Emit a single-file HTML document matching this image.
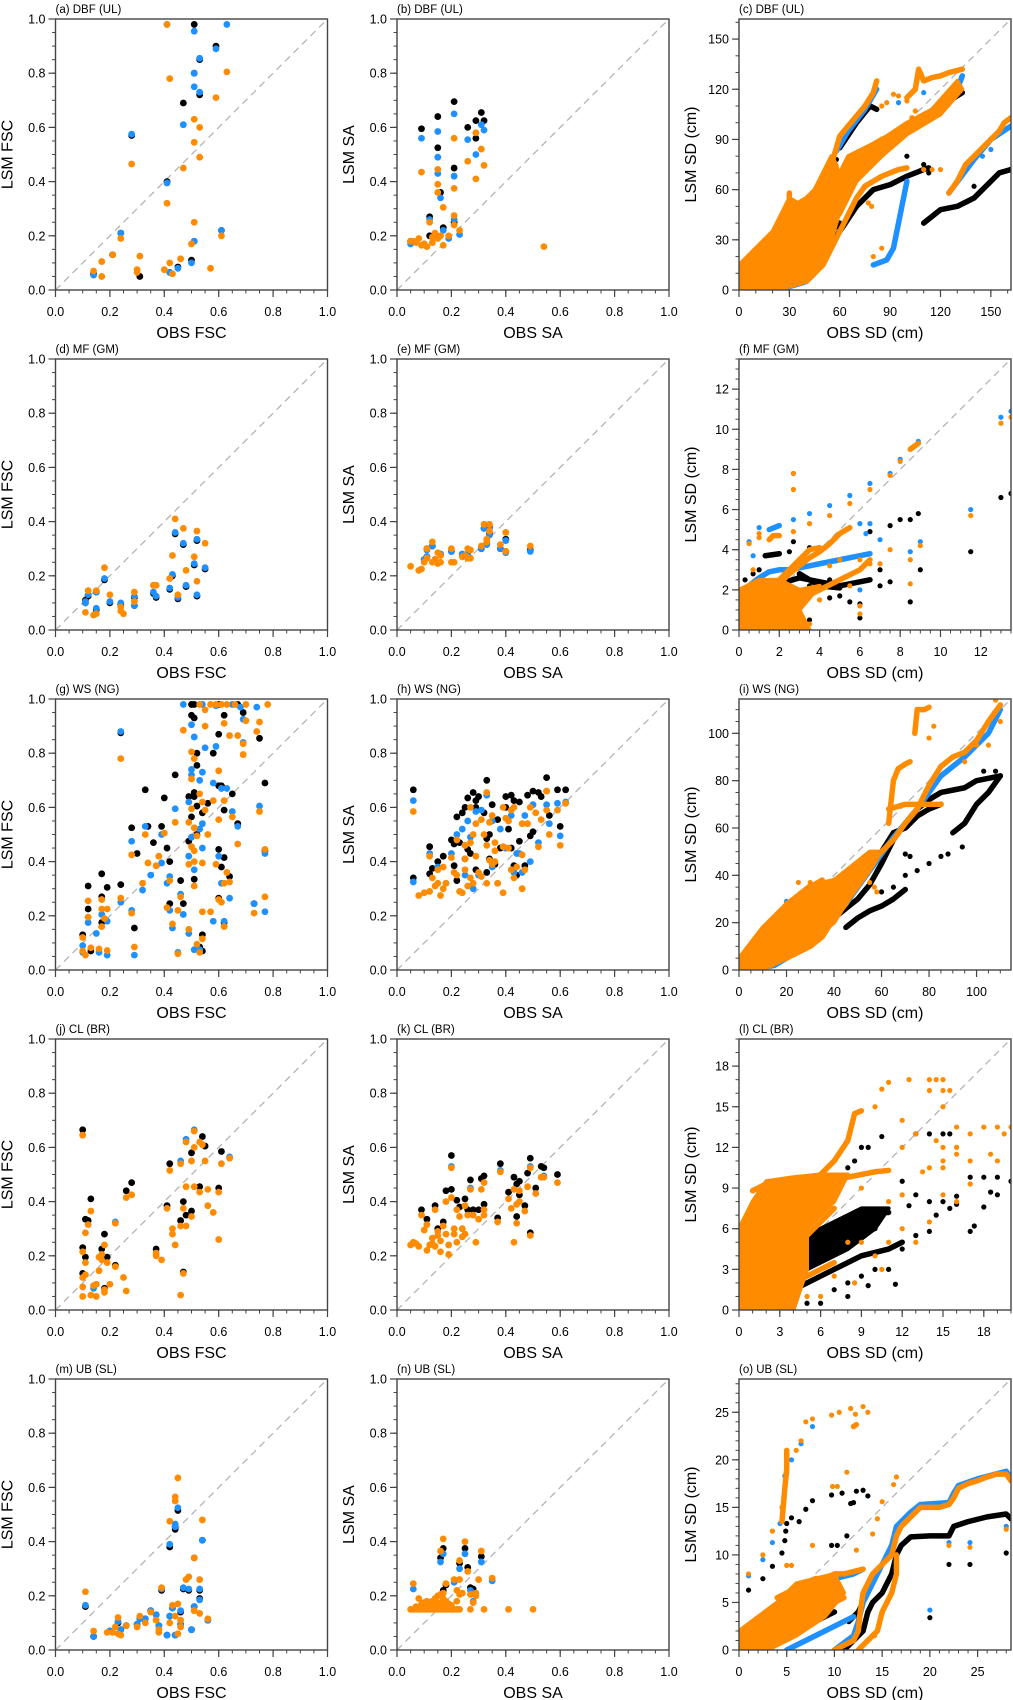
<!DOCTYPE html>
<html><head><meta charset="utf-8">
<style>
html,body{margin:0;padding:0;background:#fff;}
svg{display:block;font-family:"Liberation Sans",sans-serif;}
</style></head>
<body>
<svg id="fig" width="1013" height="1700" viewBox="0 0 1013 1700" xmlns="http://www.w3.org/2000/svg"></svg>
<script>
// ---------- data ----------
const aBlack=[[0.51,0.98],[0.59,0.90],[0.53,0.85],[0.51,0.80],[0.53,0.72],[0.47,0.69],[0.28,0.57],[0.41,0.40],[0.24,0.21],[0.21,0.13],[0.31,0.05],[0.51,0.18],[0.50,0.11],[0.45,0.085],[0.42,0.065],[0.61,0.22],[0.14,0.06]];
const aBlue=[[0.41,0.98],[0.63,0.98],[0.51,0.955],[0.59,0.89],[0.53,0.855],[0.51,0.80],[0.51,0.75],[0.53,0.73],[0.47,0.61],[0.28,0.575],[0.41,0.395],[0.24,0.21],[0.21,0.13],[0.14,0.055],[0.42,0.065],[0.45,0.08],[0.50,0.10],[0.51,0.18],[0.61,0.22]];
const aOrange=[[0.41,0.98],[0.42,0.78],[0.63,0.805],[0.59,0.71],[0.51,0.63],[0.53,0.60],[0.51,0.545],[0.53,0.49],[0.28,0.465],[0.47,0.45],[0.41,0.32],[0.51,0.25],[0.24,0.19],[0.61,0.20],[0.50,0.17],[0.21,0.13],[0.31,0.125],[0.17,0.105],[0.46,0.115],[0.30,0.075],[0.30,0.065],[0.42,0.10],[0.40,0.075],[0.43,0.06],[0.57,0.08],[0.14,0.07],[0.17,0.05]];
const bBlack=[[0.09,0.595],[0.15,0.64],[0.21,0.695],[0.15,0.525],[0.26,0.60],[0.29,0.625],[0.31,0.655],[0.32,0.625],[0.29,0.56],[0.21,0.45],[0.16,0.36],[0.12,0.27],[0.21,0.25],[0.17,0.23],[0.12,0.2],[0.05,0.18]];
const bBlue=[[0.09,0.56],[0.15,0.585],[0.21,0.65],[0.15,0.49],[0.15,0.43],[0.26,0.555],[0.31,0.61],[0.32,0.59],[0.29,0.50],[0.21,0.42],[0.16,0.34],[0.12,0.26],[0.21,0.26],[0.17,0.22],[0.23,0.205],[0.05,0.17],[0.1,0.17],[0.19,0.19]];
const bOrange=[[0.09,0.435],[0.15,0.445],[0.15,0.39],[0.21,0.56],[0.21,0.375],[0.26,0.475],[0.29,0.58],[0.31,0.52],[0.32,0.46],[0.29,0.41],[0.15,0.36],[0.17,0.305],[0.21,0.275],[0.12,0.25],[0.16,0.2],[0.14,0.21],[0.13,0.195],[0.08,0.19],[0.05,0.18],[0.1,0.17],[0.11,0.16],[0.17,0.165],[0.19,0.2],[0.23,0.22],[0.21,0.24],[0.54,0.16],[0.06,0.18],[0.07,0.175],[0.13,0.175],[0.15,0.19],[0.09,0.165]];
const dBlack=[[0.11,0.11],[0.12,0.125],[0.15,0.14],[0.15,0.075],[0.18,0.185],[0.2,0.10],[0.24,0.095],[0.29,0.12],[0.29,0.09],[0.36,0.135],[0.37,0.12],[0.42,0.15],[0.43,0.20],[0.44,0.355],[0.45,0.115],[0.47,0.315],[0.48,0.16],[0.51,0.24],[0.52,0.33],[0.52,0.125],[0.55,0.225],[0.11,0.10]];
const dBlue=[[0.11,0.105],[0.12,0.13],[0.15,0.14],[0.15,0.08],[0.18,0.19],[0.2,0.105],[0.24,0.1],[0.29,0.125],[0.29,0.09],[0.36,0.14],[0.37,0.125],[0.42,0.155],[0.43,0.205],[0.44,0.36],[0.45,0.12],[0.47,0.32],[0.48,0.165],[0.51,0.245],[0.52,0.335],[0.52,0.13],[0.55,0.23],[0.11,0.1]];
const dOrange=[[0.11,0.065],[0.12,0.145],[0.15,0.145],[0.14,0.055],[0.15,0.06],[0.18,0.23],[0.2,0.13],[0.24,0.085],[0.24,0.07],[0.25,0.06],[0.29,0.14],[0.29,0.105],[0.36,0.165],[0.37,0.165],[0.42,0.19],[0.43,0.275],[0.44,0.41],[0.45,0.13],[0.47,0.375],[0.48,0.22],[0.51,0.27],[0.52,0.365],[0.52,0.18],[0.55,0.32]];
const eBlack=[[0.11,0.30],[0.13,0.31],[0.11,0.27],[0.16,0.28],[0.2,0.29],[0.24,0.28],[0.26,0.28],[0.31,0.30],[0.32,0.375],[0.33,0.32],[0.34,0.38],[0.34,0.355],[0.38,0.30],[0.4,0.335],[0.4,0.29],[0.49,0.295],[0.14,0.26],[0.1,0.26]];
const eBlue=[[0.11,0.295],[0.13,0.31],[0.11,0.27],[0.16,0.28],[0.2,0.29],[0.24,0.28],[0.26,0.28],[0.31,0.30],[0.32,0.375],[0.33,0.315],[0.34,0.375],[0.34,0.35],[0.38,0.30],[0.4,0.33],[0.4,0.285],[0.49,0.29],[0.14,0.26],[0.1,0.26]];
const eOrange=[[0.05,0.235],[0.08,0.22],[0.09,0.225],[0.10,0.25],[0.11,0.3],[0.11,0.265],[0.13,0.325],[0.13,0.25],[0.14,0.26],[0.15,0.285],[0.15,0.245],[0.16,0.25],[0.16,0.275],[0.2,0.30],[0.2,0.25],[0.21,0.25],[0.24,0.27],[0.25,0.275],[0.26,0.30],[0.27,0.295],[0.27,0.265],[0.26,0.265],[0.31,0.31],[0.32,0.39],[0.33,0.335],[0.33,0.325],[0.34,0.39],[0.34,0.365],[0.38,0.315],[0.4,0.36],[0.4,0.29],[0.49,0.31]];
const gBlack=[[0.5,0.98],[0.51,0.98],[0.6,0.98],[0.67,0.98],[0.5,0.94],[0.51,0.93],[0.62,0.94],[0.69,0.95],[0.24,0.875],[0.75,0.855],[0.6,0.87],[0.52,0.8],[0.58,0.8],[0.52,0.755],[0.44,0.72],[0.33,0.665],[0.77,0.69],[0.6,0.68],[0.61,0.68],[0.65,0.65],[0.51,0.655],[0.4,0.635],[0.49,0.64],[0.51,0.64],[0.52,0.605],[0.56,0.615],[0.5,0.565],[0.54,0.58],[0.62,0.59],[0.67,0.54],[0.28,0.525],[0.34,0.53],[0.39,0.53],[0.36,0.47],[0.41,0.45],[0.49,0.475],[0.52,0.5],[0.6,0.445],[0.3,0.43],[0.42,0.4],[0.62,0.415],[0.61,0.38],[0.64,0.345],[0.17,0.355],[0.12,0.31],[0.24,0.315],[0.19,0.305],[0.46,0.33],[0.51,0.335],[0.12,0.225],[0.17,0.27],[0.42,0.245],[0.47,0.245],[0.6,0.265],[0.17,0.175],[0.29,0.155],[0.54,0.13],[0.1,0.13],[0.53,0.085],[0.54,0.07],[0.13,0.07],[0.62,0.175],[0.77,0.44],[0.73,0.245]];
const gBlue=[[0.47,0.98],[0.54,0.98],[0.59,0.975],[0.65,0.98],[0.68,0.97],[0.74,0.97],[0.5,0.905],[0.24,0.88],[0.51,0.86],[0.55,0.82],[0.59,0.825],[0.69,0.84],[0.69,0.925],[0.5,0.74],[0.5,0.72],[0.54,0.73],[0.53,0.7],[0.58,0.69],[0.61,0.67],[0.63,0.67],[0.49,0.62],[0.44,0.595],[0.54,0.54],[0.65,0.585],[0.67,0.53],[0.75,0.605],[0.28,0.475],[0.33,0.53],[0.39,0.5],[0.5,0.49],[0.53,0.52],[0.54,0.45],[0.6,0.42],[0.49,0.42],[0.51,0.37],[0.39,0.395],[0.35,0.35],[0.41,0.32],[0.42,0.345],[0.32,0.295],[0.24,0.25],[0.28,0.22],[0.46,0.28],[0.42,0.22],[0.47,0.205],[0.58,0.18],[0.62,0.18],[0.64,0.265],[0.12,0.175],[0.15,0.135],[0.19,0.18],[0.43,0.155],[0.49,0.135],[0.51,0.075],[0.45,0.065],[0.1,0.09],[0.1,0.065],[0.16,0.065],[0.19,0.055],[0.29,0.055],[0.53,0.075],[0.73,0.245],[0.77,0.215],[0.77,0.43],[0.61,0.32],[0.17,0.205]];
const gOrange=[[0.53,0.98],[0.57,0.98],[0.59,0.98],[0.61,0.98],[0.63,0.98],[0.66,0.98],[0.7,0.98],[0.78,0.98],[0.55,0.96],[0.62,0.91],[0.55,0.9],[0.47,0.885],[0.64,0.865],[0.67,0.865],[0.74,0.88],[0.7,0.92],[0.75,0.915],[0.69,0.835],[0.69,0.795],[0.5,0.805],[0.51,0.78],[0.24,0.78],[0.6,0.735],[0.5,0.705],[0.53,0.65],[0.54,0.62],[0.58,0.625],[0.62,0.625],[0.5,0.595],[0.55,0.59],[0.6,0.555],[0.65,0.565],[0.75,0.585],[0.49,0.545],[0.44,0.545],[0.51,0.525],[0.67,0.465],[0.33,0.5],[0.4,0.505],[0.52,0.495],[0.56,0.5],[0.28,0.425],[0.38,0.42],[0.5,0.455],[0.51,0.44],[0.34,0.395],[0.37,0.385],[0.49,0.39],[0.51,0.4],[0.54,0.395],[0.59,0.39],[0.63,0.36],[0.62,0.32],[0.64,0.325],[0.42,0.33],[0.32,0.32],[0.51,0.31],[0.24,0.265],[0.46,0.27],[0.6,0.26],[0.61,0.25],[0.12,0.255],[0.17,0.26],[0.77,0.27],[0.17,0.225],[0.19,0.225],[0.41,0.23],[0.45,0.22],[0.54,0.215],[0.57,0.215],[0.73,0.21],[0.28,0.21],[0.18,0.19],[0.12,0.195],[0.17,0.16],[0.43,0.17],[0.62,0.16],[0.49,0.15],[0.1,0.12],[0.54,0.115],[0.52,0.095],[0.29,0.085],[0.16,0.078],[0.13,0.082],[0.19,0.072],[0.1,0.07],[0.11,0.055],[0.45,0.06],[0.53,0.065],[0.77,0.445]];
const hBlack=[[0.06,0.665],[0.33,0.7],[0.55,0.71],[0.28,0.655],[0.26,0.635],[0.25,0.6],[0.29,0.625],[0.22,0.565],[0.24,0.58],[0.35,0.61],[0.32,0.58],[0.4,0.64],[0.42,0.645],[0.43,0.625],[0.45,0.62],[0.48,0.645],[0.5,0.66],[0.52,0.655],[0.53,0.64],[0.59,0.665],[0.62,0.665],[0.56,0.57],[0.6,0.53],[0.5,0.51],[0.49,0.495],[0.2,0.48],[0.21,0.465],[0.23,0.47],[0.34,0.5],[0.37,0.555],[0.4,0.6],[0.33,0.485],[0.41,0.52],[0.45,0.475],[0.42,0.45],[0.12,0.455],[0.17,0.42],[0.15,0.4],[0.13,0.375],[0.12,0.355],[0.26,0.445],[0.27,0.43],[0.34,0.41],[0.36,0.39],[0.38,0.45],[0.43,0.385],[0.44,0.35],[0.47,0.385],[0.33,0.36],[0.29,0.37],[0.06,0.34],[0.21,0.385],[0.25,0.41],[0.29,0.6],[0.3,0.64],[0.22,0.33]];
const hBlue=[[0.06,0.625],[0.33,0.645],[0.55,0.66],[0.29,0.585],[0.26,0.55],[0.24,0.52],[0.31,0.59],[0.35,0.55],[0.38,0.52],[0.42,0.57],[0.47,0.57],[0.5,0.61],[0.55,0.61],[0.59,0.615],[0.62,0.62],[0.52,0.47],[0.56,0.54],[0.6,0.495],[0.49,0.4],[0.45,0.43],[0.4,0.45],[0.27,0.49],[0.22,0.5],[0.2,0.43],[0.15,0.38],[0.12,0.43],[0.25,0.46],[0.3,0.35],[0.35,0.38],[0.37,0.32],[0.4,0.45],[0.43,0.36],[0.46,0.36],[0.25,0.35],[0.06,0.325],[0.28,0.3],[0.18,0.32],[0.44,0.43]];
const hOrange=[[0.06,0.585],[0.33,0.655],[0.55,0.66],[0.62,0.615],[0.59,0.59],[0.55,0.59],[0.51,0.58],[0.49,0.6],[0.43,0.6],[0.39,0.6],[0.35,0.57],[0.31,0.555],[0.27,0.6],[0.29,0.54],[0.34,0.545],[0.41,0.55],[0.46,0.54],[0.48,0.54],[0.53,0.555],[0.52,0.455],[0.56,0.5],[0.6,0.46],[0.46,0.425],[0.47,0.37],[0.43,0.34],[0.41,0.45],[0.39,0.455],[0.36,0.44],[0.33,0.46],[0.28,0.5],[0.27,0.47],[0.25,0.46],[0.22,0.48],[0.2,0.415],[0.17,0.38],[0.15,0.37],[0.12,0.42],[0.13,0.34],[0.15,0.32],[0.17,0.3],[0.18,0.32],[0.12,0.29],[0.1,0.285],[0.08,0.275],[0.14,0.31],[0.16,0.275],[0.21,0.36],[0.22,0.35],[0.23,0.29],[0.24,0.285],[0.25,0.37],[0.26,0.31],[0.27,0.34],[0.28,0.32],[0.3,0.36],[0.31,0.345],[0.33,0.32],[0.34,0.405],[0.35,0.39],[0.36,0.4],[0.37,0.32],[0.39,0.285],[0.42,0.37],[0.44,0.38],[0.46,0.30],[0.25,0.41],[0.29,0.42],[0.32,0.5],[0.36,0.47],[0.4,0.56],[0.42,0.59]];
const jBlack=[[0.1,0.665],[0.54,0.64],[0.55,0.605],[0.5,0.58],[0.61,0.585],[0.42,0.54],[0.28,0.47],[0.26,0.44],[0.13,0.41],[0.11,0.335],[0.12,0.33],[0.18,0.28],[0.1,0.23],[0.17,0.225],[0.11,0.195],[0.19,0.195],[0.47,0.4],[0.53,0.455],[0.6,0.45],[0.41,0.385],[0.46,0.33],[0.48,0.35],[0.5,0.365],[0.37,0.225],[0.22,0.165],[0.1,0.135],[0.47,0.14],[0.18,0.08]];
const jBlue=[[0.14,0.08],[0.51,0.665],[0.48,0.63],[0.46,0.55],[0.22,0.325],[0.64,0.565]];
const jOrange=[[0.1,0.645],[0.51,0.66],[0.48,0.62],[0.53,0.62],[0.54,0.61],[0.51,0.6],[0.61,0.54],[0.64,0.56],[0.42,0.515],[0.46,0.54],[0.5,0.55],[0.55,0.55],[0.48,0.455],[0.51,0.455],[0.53,0.435],[0.56,0.445],[0.6,0.435],[0.26,0.415],[0.28,0.425],[0.41,0.375],[0.47,0.375],[0.56,0.385],[0.58,0.36],[0.5,0.345],[0.48,0.31],[0.43,0.3],[0.46,0.31],[0.43,0.28],[0.13,0.365],[0.12,0.315],[0.22,0.32],[0.11,0.285],[0.18,0.24],[0.1,0.215],[0.16,0.195],[0.17,0.205],[0.17,0.185],[0.19,0.175],[0.11,0.175],[0.22,0.16],[0.37,0.21],[0.37,0.2],[0.39,0.185],[0.44,0.24],[0.6,0.26],[0.16,0.145],[0.11,0.13],[0.1,0.12],[0.25,0.12],[0.47,0.135],[0.2,0.095],[0.14,0.09],[0.15,0.095],[0.1,0.085],[0.18,0.065],[0.18,0.075],[0.26,0.07],[0.1,0.05],[0.13,0.055],[0.15,0.05],[0.46,0.055]];
const kBlack=[[0.09,0.37],[0.11,0.335],[0.14,0.385],[0.17,0.325],[0.18,0.44],[0.2,0.445],[0.2,0.57],[0.22,0.405],[0.23,0.38],[0.25,0.41],[0.26,0.37],[0.27,0.48],[0.28,0.37],[0.3,0.37],[0.31,0.485],[0.32,0.495],[0.32,0.39],[0.38,0.54],[0.37,0.34],[0.41,0.435],[0.43,0.49],[0.44,0.465],[0.45,0.475],[0.45,0.425],[0.47,0.385],[0.48,0.505],[0.49,0.56],[0.51,0.45],[0.53,0.53],[0.54,0.525],[0.59,0.5],[0.44,0.345],[0.49,0.285],[0.15,0.3]];
const kBlue=[[0.2,0.53],[0.27,0.45],[0.38,0.515],[0.49,0.53],[0.54,0.495]];
const kOrange=[[0.05,0.24],[0.06,0.25],[0.07,0.245],[0.08,0.235],[0.09,0.35],[0.1,0.295],[0.11,0.315],[0.11,0.22],[0.12,0.24],[0.13,0.245],[0.13,0.265],[0.14,0.37],[0.14,0.235],[0.15,0.275],[0.15,0.29],[0.16,0.255],[0.16,0.215],[0.17,0.31],[0.18,0.28],[0.18,0.4],[0.19,0.24],[0.19,0.205],[0.2,0.415],[0.2,0.525],[0.21,0.3],[0.21,0.28],[0.22,0.25],[0.22,0.37],[0.23,0.345],[0.24,0.3],[0.24,0.27],[0.25,0.385],[0.25,0.28],[0.26,0.35],[0.27,0.445],[0.28,0.35],[0.29,0.25],[0.3,0.335],[0.31,0.445],[0.32,0.37],[0.32,0.35],[0.32,0.47],[0.37,0.325],[0.38,0.51],[0.41,0.41],[0.42,0.375],[0.43,0.25],[0.43,0.445],[0.44,0.32],[0.44,0.39],[0.45,0.44],[0.45,0.4],[0.47,0.365],[0.48,0.455],[0.49,0.525],[0.49,0.275],[0.51,0.43],[0.53,0.49],[0.54,0.49],[0.59,0.47]];
const mBlack=[[0.11,0.16],[0.14,0.05],[0.2,0.07],[0.23,0.1],[0.24,0.075],[0.26,0.09],[0.3,0.095],[0.31,0.115],[0.33,0.115],[0.35,0.145],[0.37,0.13],[0.38,0.09],[0.39,0.22],[0.41,0.055],[0.42,0.125],[0.42,0.38],[0.43,0.155],[0.44,0.445],[0.44,0.455],[0.44,0.055],[0.45,0.515],[0.46,0.14],[0.46,0.095],[0.47,0.225],[0.49,0.22],[0.5,0.075],[0.51,0.34],[0.51,0.16],[0.53,0.22],[0.53,0.19],[0.54,0.405],[0.56,0.11]];
const mBlue=[[0.11,0.165],[0.14,0.05],[0.2,0.07],[0.23,0.105],[0.24,0.075],[0.26,0.09],[0.3,0.095],[0.31,0.115],[0.33,0.115],[0.35,0.145],[0.37,0.13],[0.38,0.09],[0.39,0.225],[0.41,0.055],[0.42,0.125],[0.42,0.39],[0.43,0.155],[0.44,0.455],[0.44,0.465],[0.44,0.055],[0.45,0.525],[0.46,0.145],[0.46,0.095],[0.47,0.23],[0.49,0.225],[0.5,0.075],[0.51,0.34],[0.51,0.16],[0.53,0.225],[0.53,0.185],[0.54,0.405],[0.56,0.11]];
const mOrange=[[0.11,0.215],[0.14,0.07],[0.19,0.065],[0.21,0.065],[0.22,0.085],[0.23,0.12],[0.23,0.06],[0.24,0.055],[0.26,0.09],[0.3,0.085],[0.31,0.125],[0.33,0.1],[0.35,0.14],[0.37,0.11],[0.38,0.075],[0.38,0.065],[0.39,0.23],[0.42,0.475],[0.42,0.1],[0.43,0.165],[0.44,0.55],[0.44,0.565],[0.44,0.125],[0.45,0.635],[0.45,0.17],[0.45,0.06],[0.46,0.085],[0.46,0.11],[0.48,0.26],[0.49,0.27],[0.51,0.34],[0.51,0.145],[0.53,0.26],[0.53,0.135],[0.54,0.48],[0.56,0.115]];
const nBlack=[[0.16,0.34],[0.17,0.375],[0.23,0.32],[0.25,0.375],[0.26,0.305],[0.27,0.23],[0.31,0.345],[0.18,0.24],[0.17,0.22],[0.28,0.225]];
const nBlue=[[0.06,0.225],[0.16,0.325],[0.17,0.355],[0.23,0.3],[0.25,0.355],[0.31,0.325],[0.35,0.255],[0.21,0.25],[0.28,0.18],[0.27,0.22]];
const nOrange=[[0.05,0.15],[0.06,0.15],[0.07,0.15],[0.08,0.15],[0.09,0.15],[0.1,0.15],[0.11,0.15],[0.12,0.15],[0.13,0.15],[0.14,0.15],[0.15,0.15],[0.16,0.15],[0.17,0.15],[0.18,0.15],[0.19,0.15],[0.2,0.15],[0.21,0.15],[0.22,0.15],[0.23,0.15],[0.27,0.15],[0.32,0.15],[0.41,0.15],[0.5,0.15],[0.06,0.245],[0.07,0.16],[0.08,0.19],[0.09,0.17],[0.1,0.175],[0.11,0.165],[0.12,0.175],[0.13,0.18],[0.14,0.19],[0.15,0.2],[0.16,0.205],[0.17,0.21],[0.16,0.365],[0.17,0.41],[0.18,0.245],[0.17,0.19],[0.18,0.18],[0.16,0.17],[0.15,0.175],[0.14,0.165],[0.12,0.165],[0.21,0.26],[0.22,0.22],[0.23,0.26],[0.23,0.33],[0.22,0.18],[0.23,0.205],[0.24,0.21],[0.25,0.4],[0.26,0.29],[0.27,0.205],[0.28,0.175],[0.29,0.2],[0.29,0.21],[0.3,0.26],[0.31,0.365],[0.35,0.265],[0.13,0.16],[0.11,0.18],[0.09,0.16],[0.2,0.165],[0.19,0.17],[0.1,0.16],[0.15,0.16],[0.17,0.17]];

// SD panels: dense clouds (outline vertices in data units), tracks (dense runs) + isolated points
const cOrangeCloud=[[[0,0],[0,15],[10,25],[20,35],[25,45],[30,55],[35,52],[40,55],[45,60],[50,70],[55,80],[58,75],[60,65],[62,55],[58,40],[55,30],[50,20],[45,10],[40,5],[30,2],[20,0]],[[55,60],[65,80],[75,85],[85,90],[100,100],[115,108],[130,125],[133,120],[120,105],[100,93],[85,80],[70,65],[60,45]]];
const cOrangeTracks=[[[0,0],[5,8],[10,14],[15,20],[20,25],[25,32],[30,40],[35,45],[40,52],[45,58],[50,65],[55,75],[58,85],[60,92],[65,98],[70,104],[75,110],[80,118],[82,125]],[[0,5],[5,15],[10,20],[15,25],[20,30],[25,40],[30,50],[30,58]],[[10,0],[20,8],[30,18],[35,25],[40,35],[45,45],[50,50],[55,55]],[[20,0],[30,5],[40,15],[45,25],[50,35],[55,45],[60,55],[65,70],[70,75],[75,82],[80,87],[85,90],[90,92],[95,95],[100,98],[105,100],[110,102],[115,105],[120,110],[125,115],[130,122]],[[40,5],[45,10],[50,15],[55,25],[60,35],[65,45],[70,55],[75,62],[80,65],[85,68],[90,70],[95,72],[100,73]],[[100,115],[105,120],[107,132],[110,125],[115,127],[120,128],[125,130],[133,132]],[[125,58],[130,65],[135,75],[140,80],[145,85],[150,90],[155,95],[158,100],[162,103]]];
const cOrangePts=[[85,110],[88,112],[95,116],[92,117],[100,113],[110,72],[115,72],[120,72],[80,20],[85,25],[77,52],[79,50],[103,103],[105,107]];
const cBlueTracks=[[[0,0],[20,0],[30,2],[40,5],[45,10],[48,20],[52,30]],[[80,15],[88,18],[92,25],[95,40],[98,55],[100,65]],[[58,83],[65,95],[75,108],[82,120]],[[90,92],[110,100],[130,120],[133,128]],[[125,58],[140,78],[150,90],[162,98]]];
const cBluePts=[[95,112],[110,118],[145,80],[150,84]];
const cBlackTracks=[[[45,15],[55,28],[62,38],[70,50],[80,60],[90,63],[100,68],[110,72],[113,73]],[[60,85],[70,100],[78,110],[82,108]],[[100,95],[110,102],[120,110],[133,118]],[[110,40],[120,48],[130,50],[140,55],[150,65],[155,70],[162,72]],[[40,20],[50,30],[60,40]]];
const cBlackPts=[[90,90],[100,80],[110,75],[113,70],[58,78],[52,55],[140,62]];

const fOrangeCloud=[[[0,0],[0,2],[1,2.5],[2,2.5],[3,2],[4,2.2],[3,1],[3.5,0],[2,0]]];
const fOrangeTracks=[[[0,0.5],[0.5,1],[1,1.5],[1.5,2],[2,2.3],[2.5,2.8],[3,3.2],[3.5,3.6],[4,3.9],[4.5,4.3],[5,4.8],[5.5,5.1]],[[0,1.5],[1,2],[2,2.5],[3,3.5],[3.5,4],[4,4.1]],[[0,0.2],[1,0.5],[2,1.0],[3,1.5],[4,2.0],[5,2.5],[6,3.0],[6.5,3.5]],[[1.5,4.5],[1.7,4.7],[2,4.7]],[[8.5,9],[8.9,9.3]]];
const fOrangePts=[[0.5,4.3],[0.7,3],[1,4.6],[1,4.8],[2.7,7.8],[2.7,7],[2.7,4.9],[3.5,5.3],[4.5,5.7],[5.5,6.3],[6.5,7],[7.5,7.7],[8,8.4],[8.5,3.5],[8.5,2.3],[9,4.2],[13,10.3],[13.5,10.6],[11.5,5.7],[6,1.2],[6,0.8],[5.5,2.2],[4,1.5],[3,0.5],[3.5,0.3],[2.8,0.6],[3,1],[1.5,0.3],[0.5,0.8],[2,0.2],[4.5,3.2],[5,3.5],[6,3.5],[6.5,3.3],[7,3.3],[7.5,4],[1,1],[1.5,1.5],[2.5,1.8],[0.3,1.2],[0.8,0.3],[2,1.5],[1.2,2.2]];
const fBlueTracks=[[[0,1.8],[0.5,2.2],[1,2.6],[1.5,2.9],[2,3],[2.5,3],[3,3.1],[3.5,3.2],[4,3.3],[5,3.5],[6,3.7],[6.5,3.8]],[[1.5,5],[2,5.2]]];
const fBluePts=[[0.5,4.4],[0.7,3.7],[1,5.1],[2.7,7.8],[2.7,5.5],[3.5,5.8],[4.5,6.2],[5.5,6.7],[6.5,7.3],[7.5,7.8],[8,8.5],[8.9,9.4],[13,10.6],[13.5,10.9],[11.5,6],[9,4.4],[8.5,3.9],[7,4.5],[6.5,5.3],[6,5.3],[6,2],[6.3,4.8]];
const fBlackTracks=[[[0,1],[1,1.8],[2,2.3],[3,2.6],[4,2.4],[5,2.2],[6,2.4],[6.5,2.5]],[[1.3,3.7],[2,3.8]],[[3,2.8],[4,2.2],[5,2.1]]];
const fBlackPts=[[0.3,2.5],[0.7,2.8],[1,3],[2.7,4.4],[2.5,3.9],[3.5,4.1],[6.5,4.9],[7.5,5.2],[8,5.5],[8.5,5.5],[8.9,5.8],[13,6.6],[13.5,6.8],[11.5,3.9],[9,3],[8.5,1.4],[7.5,2.4],[7,2.2],[7,3],[6,0.6],[6,1.3],[5.5,1.4],[5,1.7],[4.5,1.6],[3.5,0.5],[3,0.8],[2.5,0.4],[1.2,0.3],[4.5,2.5],[3.5,2.2]];

const iOrangeCloud=[[[0,0],[0,5],[10,18],[20,28],[30,36],[40,38],[50,46],[55,50],[60,50],[55,42],[50,35],[45,28],[40,20],[30,12],[20,5],[10,0]]];
const iOrangeTracks=[[[0,0],[5,4],[10,8],[15,14],[20,20],[25,24],[30,28],[35,30],[38,33]],[[0,2],[5,7],[10,12],[15,18],[20,25],[25,28],[30,35],[35,38]],[[5,2],[15,6],[25,12],[30,15],[35,20],[40,25],[45,30],[50,38],[55,44],[60,50],[65,55],[70,62],[75,68],[80,78],[85,86],[90,90],[95,92],[100,97],[105,105],[110,112]],[[10,2],[20,5],[30,10],[35,14],[40,22],[45,28],[50,40],[52,45]],[[63,62],[65,80],[67,85],[70,87],[72,88]],[[74,100],[75,110],[78,110],[80,111]],[[63,68],[70,70],[80,70],[85,70]],[[20,28],[25,30],[30,28]]];
const iOrangePts=[[40,38],[45,40],[48,42],[55,37],[57,35],[58,33],[25,37],[30,37],[35,38],[80,98],[82,103],[100,95],[95,88],[108,114],[110,105],[105,95]];
const iBlueTracks=[[[5,0],[15,2],[25,8],[35,16],[45,28],[55,42],[65,56],[75,68],[85,82],[95,90],[105,100],[110,110]]];
const iBluePts=[[20,29],[42,30]];
const iBlackTracks=[[[10,3],[20,10],[30,15],[40,22],[45,26],[50,30],[55,36],[60,45],[65,55],[70,62],[75,68],[80,72],[85,75],[90,76],[95,77],[100,80],[110,82]],[[45,18],[50,22],[55,25],[60,27],[65,30],[70,34]],[[60,50],[65,58],[70,60],[75,65],[80,68],[85,70]],[[90,58],[95,62],[100,70],[105,75],[110,82]]];
const iBlackPts=[[60,33],[65,35],[70,40],[75,42],[80,45],[85,48],[88,49],[94,52],[70,49],[72,48],[103,84],[108,84],[12,4],[18,7],[30,13]];

const lOrangeCloud=[[[0,0],[0,6],[1,8],[2,9.5],[4,9.8],[6,10],[8,10],[7,8],[6,7],[5,6],[5,3],[4,0]]];
const lOrangeTracks=[[[0,0.5],[1,1.5],[2,2.5],[3,3.5],[4,4.5],[5,5.5],[6,6.5],[7,7.5]],[[0,2],[1,3],[2,4],[3,5],[4,6],[5,7]],[[0,4],[1,5],[2,6],[3,7],[4,7.5],[5,8],[6,8.8]],[[0,5.5],[1,7],[2,8],[3,9],[4,9.3],[5,9.5],[6,9.6],[7,9.7],[8,9.8],[9,10],[10,10.2],[11,10.3]],[[0,1],[1,0.5],[2,1],[3,1.5],[4,2],[5,2.5],[6,3],[7,3.5]],[[1,8.8],[2,9.3]],[[3,8.5],[5,9.5],[6,10],[7,11],[8,12.5],[8.5,14.5],[9,14.7]]];
const lOrangePts=[[10,15],[10.5,16.3],[11,16.8],[12.5,17],[14,17],[14.5,17],[15,17],[14,16.2],[15,16.2],[15.5,16.2],[15,15],[12,14],[12,12],[13,13],[14.5,12.5],[15,12],[16,12],[15,11],[16,11.5],[17,11],[16,13.5],[17,13],[18,13.5],[19,13.5],[20,13.5],[19.5,13],[18.5,11.5],[19,11],[13.5,10.2],[14,10.5],[15,10.5],[16,8],[15,8.5],[14,6.5],[13,5],[12,6],[11,5],[10,4],[9,5],[8,5],[8.5,2],[7,2.5],[6,1],[5,1],[4,0.5],[12,8.5],[11,8],[17,9.3],[10.5,3],[9,9]];
const lBlackCloud=[[[3,4],[6,6],[9,7.5],[11,7.5],[10,6],[8,4.5],[5,3]]];
const lBlackTracks=[[[0,2],[2,3],[4,4],[6,5],[8,6.5],[9,7],[10,7.2],[11,7.2]],[[0,3.5],[1,4.5],[2,5.5],[3,6.5],[4,7.5],[5,8]],[[3,1],[5,2],[7,3],[9,4],[11,4.5],[12,5]]];
const lBlackPts=[[1,7],[7,9.5],[8,10.5],[8.5,11],[9,12],[9.5,12],[10.5,12.8],[13,13],[14,13],[15,13],[15.5,13],[12,9.5],[13,8.5],[14,8],[15,8],[15.5,7.5],[14.5,7],[16,8.4],[17,9.8],[18,9.8],[19,9.8],[20,9.5],[19,8.5],[18.5,8.7],[18,7.6],[17,5.8],[17.3,6.2],[14,5.8],[13,5.5],[12,4.5],[11,3],[10,3],[9,2.5],[8,2],[7,1.5],[6,0.5],[5,0.5],[4,0.8],[11.5,1.9],[9.5,1.8],[8,1],[10,6],[16,7.8],[12.5,7.7]];

const oOrangeCloud=[[[0,0],[0,2],[2,3.5],[4,5],[6,7],[8,7.5],[10,8],[11,6],[9,3.5],[6,1.5],[3,0]]];
const oOrangeTracks=[[[0,0.5],[1,1.5],[2,2.5],[3,3.5],[4,4.5],[5,5.5],[6,6.5],[7,7]],[[0,0],[2,0.5],[4,1.5],[6,2.5],[8,4],[10,5],[11,5.5]],[[4,5.5],[5,6],[6,6.5],[7,7],[8,7.5],[9,7.5],[10,8],[11,8],[13,8.5]],[[10,0],[11,0.5],[12,1],[12.5,2],[12.7,4],[13,6],[13.5,7],[14,8],[15,9],[16,10],[16.5,12],[17,13],[18,14],[19,15],[20,15],[21,15],[22,15.3],[22.5,16],[23,17],[24,17.5],[25,17.8],[26,18.2],[27,18.5],[28,18.5],[28.5,17.8]],[[12.5,0],[13.5,1],[14.5,2],[15,4],[16,6],[16.5,8],[16.5,10]],[[3.5,2],[5,3],[7,4],[9,4.5]],[[4.5,13.5],[4.8,17],[5,19],[5,21]],[[12,23.5],[12.3,23.7]]];
const oOrangePts=[[1,8],[2.5,10],[3.5,12.5],[4.5,15],[5,8.9],[5.5,8.9],[6,21],[6.5,22],[7,24],[7.7,24.3],[9.7,24.7],[10.5,25],[11.7,25.4],[12.2,24.8],[13,25.6],[13.5,25],[9.8,17.2],[10.3,17.2],[11.3,18.7],[14.5,13.8],[15,15.6],[16.2,17.4],[16.5,18.2],[12.3,10.5],[7.7,11],[14,12.2],[22,11],[24.2,10.8],[28,12.7],[14.2,1.5]];
const oBlueTracks=[[[0,1],[2,2.5],[4,3.5],[6,5],[8,6.5],[10,7.5],[12,8],[13,8.5]],[[10,0],[12,1.5],[12.5,3],[13,5],[14,7],[15,9],[16,11],[16.5,13],[18,14.5],[19,15.3],[22,15.5],[22.5,16.5],[23,17.3],[25,18],[28,18.8],[28.5,18]],[[5,0],[8,1.5],[11,3],[12,3.5]]];
const oBluePts=[[4.8,18.3],[5,18.6],[5.5,20],[6.5,21.7],[7.7,23.5],[12,23.5],[4.3,13.3],[3.5,11.3],[2.5,9.5],[1,7.8],[20,4.2],[24.2,11.3],[28,13],[22,11.3],[14.2,1.7]];
const oBlackTracks=[[[0,0],[3,1],[6,2],[8,3],[9,3.5],[10,4]],[[11,0],[12,1],[13,2],[13.5,4],[14,5],[15,6],[16,8],[16.5,10],[17,11],[18,11.9],[20,12],[22,12],[22.5,13],[24,13.5],[26,14],[28,14.3],[28.5,13.8]],[[11.5,3],[12.5,4],[13,5]]];
const oBlackPts=[[1,6.3],[2.5,7.5],[3.5,8.8],[4.5,10.2],[4.8,11.5],[4.9,12.5],[5,13.3],[5.5,13.9],[6.3,13.5],[7,14.8],[7.7,15.7],[9.7,16.3],[10.8,16.5],[11.7,15.4],[12,15.5],[12.3,16.7],[13,16.8],[13.5,16.2],[11.3,12],[9.7,11],[10.3,11],[20,3.4],[22,9],[24.2,9],[28,10.2]];

const fracTicks=[0,0.2,0.4,0.6,0.8,1.0];
const fracLabels=["0.0","0.2","0.4","0.6","0.8","1.0"];
const cTicks=[0,30,60,90,120,150];
const fTicks=[0,2,4,6,8,10,12];
const iTicks=[0,20,40,60,80,100];
const lTicks=[0,3,6,9,12,15,18];
const oTicks=[0,5,10,15,20,25];

// ---------- drawing ----------
const NS="http://www.w3.org/2000/svg";
const svg=document.getElementById("fig");
const COLS=[55.5,397,739], ROWS=[19,359,699,1039,1379], W=272, H=271;
const BLACK="#000000", BLUE="#1e90ff", ORANGE="#ff8c00";
function mk(tag,attrs,parent){const e=document.createElementNS(NS,tag);for(const k in attrs)e.setAttribute(k,attrs[k]);(parent||svg).appendChild(e);return e;}

function panel(id,col,row,title,xt,yt,max,ticks,labels,minorStep,series,isSD){
  const L=COLS[col], T=ROWS[row];
  const g=mk("g",{});
  
  
  const sx=v=>L+v/max*W, sy=v=>T+H-v/max*H;
  const cp=mk("clipPath",{id:"clip-"+id},g);
  mk("rect",{x:L,y:T,width:W,height:H},cp);
  const d=mk("line",{x1:sx(0),y1:sy(0),x2:sx(max),y2:sy(max),stroke:"#b4b4b4","stroke-width":1.3,"stroke-dasharray":"7,5"},g);
  
  
  const mg=mk("g",{"clip-path":"url(#clip-"+id+")"},g);
  
  
  const r=isSD?2.6:3.4;
  series.forEach(s=>{
    (s.cloud||[]).forEach(cl=>{
      const pg=mk("polygon",{points:cl.map(p=>sx(p[0])+","+sy(p[1])).join(" "),fill:s.color,stroke:s.color,"stroke-width":4,"stroke-linejoin":"round"},mg);
      
      
    });
    (s.tracks||[]).forEach(tr=>{
      const pl=mk("polyline",{points:tr.map(p=>sx(p[0])+","+sy(p[1])).join(" "),fill:"none",stroke:s.color,"stroke-width":5.5,"stroke-linejoin":"round","stroke-linecap":"round"},mg);
      
      
    });
    (s.pts||[]).forEach(p=>{
      const c=mk("circle",{cx:sx(p[0]),cy:sy(p[1]),r:r,fill:s.color},mg);
      
      
    });
  });
  const fr=mk("rect",{x:L,y:T,width:W,height:H,fill:"none",stroke:"#444","stroke-width":1.4},g);
  
  
  for(let v=0;v<=max+1e-9;v+=minorStep){
    mk("line",{x1:sx(v),y1:T+H,x2:sx(v),y2:T+H+3.5,stroke:"#444","stroke-width":1},g);
    mk("line",{x1:L,y1:sy(v),x2:L-3.5,y2:sy(v),stroke:"#444","stroke-width":1},g);
  }
  ticks.forEach((v,i)=>{
    mk("line",{x1:sx(v),y1:T+H,x2:sx(v),y2:T+H+7,stroke:"#444","stroke-width":1.2},g);
    mk("line",{x1:L,y1:sy(v),x2:L-7,y2:sy(v),stroke:"#444","stroke-width":1.2},g);
    const tx=mk("text",{x:sx(v),y:T+H+26,"font-size":12.5,"text-anchor":"middle",fill:"#000"},g);
    tx.textContent=labels[i];
    
    
    const ty=mk("text",{x:L-10,y:sy(v)+4.5,"font-size":12.5,"text-anchor":"end",fill:"#000"},g);
    ty.textContent=labels[i];
    
    
  });
  const tt=mk("text",{x:L,y:T-6,"font-size":11.5,fill:"#000"},g);
  tt.textContent=title;
  
  
  const xl=mk("text",{x:L+W/2,y:T+H+48,"font-size":16,"text-anchor":"middle",fill:"#000"},g);
  xl.textContent=xt;
  
  
  const yx=L-43, yy=T+H/2;
  const yl=mk("text",{x:yx,y:yy,"font-size":16,"text-anchor":"middle",fill:"#000",transform:"rotate(-90 "+yx+" "+yy+")"},g);
  yl.textContent=yt;
  
  
}
function S3(bk,bl,or){return [{name:"black",color:BLACK,pts:bk},{name:"blue",color:BLUE,pts:bl},{name:"orange",color:ORANGE,pts:or}];}
function T3(bc,bt,bp,lt,lp,oc,ot,op){return [{name:"black",color:BLACK,cloud:bc,tracks:bt,pts:bp},{name:"blue",color:BLUE,tracks:lt,pts:lp},{name:"orange",color:ORANGE,cloud:oc,tracks:ot,pts:op}];}
const str=a=>a.map(String);

panel("a",0,0,"(a) DBF (UL)","OBS FSC","LSM FSC",1,fracTicks,fracLabels,0.05,S3(aBlack,aBlue,aOrange),false);
panel("b",1,0,"(b) DBF (UL)","OBS SA","LSM SA",1,fracTicks,fracLabels,0.05,S3(bBlack,bBlue,bOrange),false);
panel("c",2,0,"(c) DBF (UL)","OBS SD (cm)","LSM SD (cm)",162,cTicks,str(cTicks),10,T3([],cBlackTracks,cBlackPts,cBlueTracks,cBluePts,cOrangeCloud,cOrangeTracks,cOrangePts),true);
panel("d",0,1,"(d) MF (GM)","OBS FSC","LSM FSC",1,fracTicks,fracLabels,0.05,S3(dBlack,dBlue,dOrange),false);
panel("e",1,1,"(e) MF (GM)","OBS SA","LSM SA",1,fracTicks,fracLabels,0.05,S3(eBlack,eBlue,eOrange),false);
panel("f",2,1,"(f) MF (GM)","OBS SD (cm)","LSM SD (cm)",13.5,fTicks,str(fTicks),0.5,T3([],fBlackTracks,fBlackPts,fBlueTracks,fBluePts,fOrangeCloud,fOrangeTracks,fOrangePts),true);
panel("g",0,2,"(g) WS (NG)","OBS FSC","LSM FSC",1,fracTicks,fracLabels,0.05,S3(gBlack,gBlue,gOrange),false);
panel("h",1,2,"(h) WS (NG)","OBS SA","LSM SA",1,fracTicks,fracLabels,0.05,S3(hBlack,hBlue,hOrange),false);
panel("i",2,2,"(i) WS (NG)","OBS SD (cm)","LSM SD (cm)",114.5,iTicks,str(iTicks),5,T3([],iBlackTracks,iBlackPts,iBlueTracks,iBluePts,iOrangeCloud,iOrangeTracks,iOrangePts),true);
panel("j",0,3,"(j) CL (BR)","OBS FSC","LSM FSC",1,fracTicks,fracLabels,0.05,S3(jBlack,jBlue,jOrange),false);
panel("k",1,3,"(k) CL (BR)","OBS SA","LSM SA",1,fracTicks,fracLabels,0.05,S3(kBlack,kBlue,kOrange),false);
panel("l",2,3,"(l) CL (BR)","OBS SD (cm)","LSM SD (cm)",20,lTicks,str(lTicks),1,T3(lBlackCloud,lBlackTracks,lBlackPts,[],[],lOrangeCloud,lOrangeTracks,lOrangePts),true);
panel("m",0,4,"(m) UB (SL)","OBS FSC","LSM FSC",1,fracTicks,fracLabels,0.05,S3(mBlack,mBlue,mOrange),false);
panel("n",1,4,"(n) UB (SL)","OBS SA","LSM SA",1,fracTicks,fracLabels,0.05,S3(nBlack,nBlue,nOrange),false);
panel("o",2,4,"(o) UB (SL)","OBS SD (cm)","LSM SD (cm)",28.5,oTicks,str(oTicks),1,T3([],oBlackTracks,oBlackPts,oBlueTracks,oBluePts,oOrangeCloud,oOrangeTracks,oOrangePts),true);
</script>
</body></html>
